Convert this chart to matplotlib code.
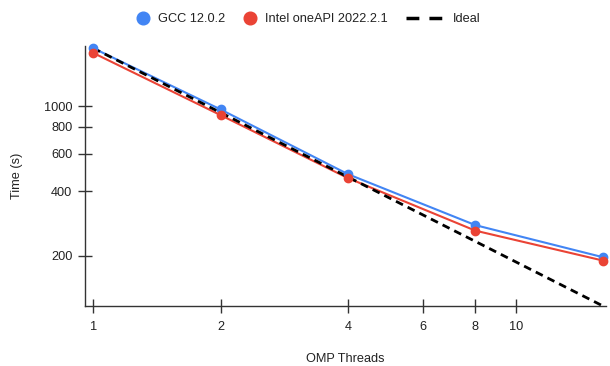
import matplotlib
matplotlib.use("Agg")
import matplotlib.pyplot as plt
from matplotlib.lines import Line2D
from matplotlib.ticker import NullLocator, FixedLocator, FixedFormatter

plt.rcParams['font.family'] = ['Liberation Sans', 'DejaVu Sans']

threads = [1, 2, 4, 8, 16]
gcc_time = [1866, 965, 481, 278, 197]
intel_time = [1773, 908, 461, 262, 190]
ideal_time = [1866, 933, 466.5, 233.3, 116.6]

x_ticks = [1, 2, 4, 6, 8, 10]
y_ticks = [200, 400, 600, 800, 1000]

blue = '#4285F4'
red = '#EA4335'
text_col = '#222222'
fs = 9.2

fig = plt.figure(figsize=(6.1, 3.66), dpi=100)
ax = fig.add_axes([0.139, 0.164, 0.855, 0.710])

# lines first, points on top
ax.plot(threads, gcc_time, color=blue, lw=1.5, zorder=3, clip_on=False)
ax.plot(threads, intel_time, color=red, lw=1.5, zorder=3, clip_on=False)
ax.plot(threads, ideal_time, color='black', lw=2, ls=(0, (2.8, 1.9)), zorder=4, clip_on=False)
ax.plot(threads, gcc_time, color=blue, ls='none', marker='o', ms=6, zorder=5, clip_on=False)
ax.plot(threads, intel_time, color=red, ls='none', marker='o', ms=6, zorder=6, clip_on=False)

ax.set_xscale('log')
ax.set_yscale('log')
ax.set_xlim(0.956, 16.3)
ax.set_ylim(116.6, 1906)

ax.xaxis.set_major_locator(FixedLocator(x_ticks))
ax.xaxis.set_major_formatter(FixedFormatter([str(t) for t in x_ticks]))
ax.xaxis.set_minor_locator(NullLocator())
ax.yaxis.set_major_locator(FixedLocator(y_ticks))
ax.yaxis.set_major_formatter(FixedFormatter([str(t) for t in y_ticks]))
ax.yaxis.set_minor_locator(NullLocator())

for s in ['top', 'right']:
    ax.spines[s].set_visible(False)
for s in ['left', 'bottom']:
    ax.spines[s].set_color('#333333')
    ax.spines[s].set_linewidth(1)

ax.tick_params(axis='x', direction='inout', length=10, width=1, color='#333333',
               labelsize=fs, labelcolor=text_col, pad=6)
ax.tick_params(axis='y', direction='inout', length=10, width=1, color='#333333',
               labelsize=fs, labelcolor=text_col, pad=4)

ax.set_xlabel('OMP Threads', fontsize=fs, color=text_col, labelpad=14)
ax.set_ylabel('Time (s)', fontsize=fs, color=text_col, labelpad=15)

# legend entries placed individually, like the original layout
entries = [
    (Line2D([], [], color=blue, marker='o', ms=9.1, ls='none'), 'GCC 12.0.2', 0.2244, 1.0, 0.67),
    (Line2D([], [], color=red, marker='o', ms=9.1, ls='none'), 'Intel oneAPI 2022.2.1', 0.3994, 1.0, 0.67),
    (Line2D([], [], color='black', lw=2.5, ls=(0, (3.7, 2.9))), 'Ideal', 0.6656, 2.9, 0.76),
]
for handle, label, x0, hl, tp in entries:
    fig.legend([handle], [label], loc='center left', bbox_to_anchor=(x0, 0.947),
               frameon=False, fontsize=fs, handlelength=hl, handletextpad=tp,
               borderpad=0, borderaxespad=0, labelcolor=text_col)

fig.savefig('out.png', dpi=100)
